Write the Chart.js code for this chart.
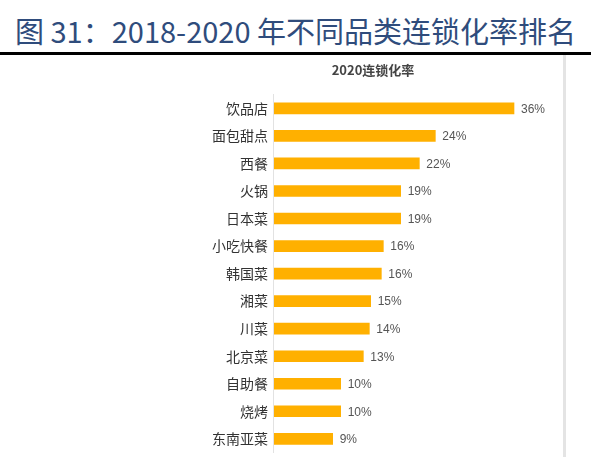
<!DOCTYPE html>
<html>
<head>
<meta charset="utf-8">
<script src="https://cdn.jsdelivr.net/npm/chart.js@4/dist/chart.umd.min.js"></script>
<style>
  body { margin: 0; background: #fff; width: 591px; height: 457px; overflow: hidden; position: relative; }
  #title { position: absolute; left: 15px; top: 12px; font-family: "Noto Sans CJK SC", sans-serif; font-size: 29px; color: #2f4c7c; white-space: nowrap; line-height: 36px; }
  #rule { position: absolute; left: 0; top: 52px; width: 591px; height: 3px; background: #000; }
  #edge { position: absolute; left: 563px; top: 55px; width: 3px; height: 402px; background: #e4e4e4; }
  #wrap { position: absolute; left: 195px; top: 58px; width: 356px; height: 409px; }
</style>
</head>
<body>
<div id="title">图 31：2018-2020 年不同品类连锁化率排名</div>
<div id="rule"></div>
<div id="edge"></div>
<div id="wrap"><canvas id="chart"></canvas></div>
<script>
const categories = ['饮品店', '面包甜点', '西餐', '火锅', '日本菜', '小吃快餐', '韩国菜', '湘菜', '川菜', '北京菜', '自助餐', '烧烤', '东南亚菜'];
const rate2020 = [36, 24.2, 21.8, 19, 19, 16.4, 16.1, 14.5, 14.3, 13.4, 10, 10, 8.8];

// value labels at the end of each bar
const barLabels = {
    id: 'barLabels',
    afterDatasetsDraw(chart) {
        const ctx = chart.ctx;
        const meta = chart.getDatasetMeta(0);
        ctx.save();
        ctx.font = '12px "Liberation Sans", Arial, sans-serif';
        ctx.fillStyle = '#555';
        ctx.textBaseline = 'middle';
        meta.data.forEach((bar, i) => {
            ctx.fillText(Math.round(rate2020[i]) + '%', bar.x + 7, bar.y + 1);
        });
        ctx.restore();
    }
};

new Chart(document.getElementById('chart'), {
    type: 'bar',
    data: {
        labels: categories,
        datasets: [{
            data: rate2020,
            backgroundColor: '#ffb000',
            barThickness: 11
        }]
    },
    options: {
        indexAxis: 'y',
        responsive: true,
        maintainAspectRatio: false,
        animation: false,
        layout: { padding: { top: 0, bottom: 4, left: 11, right: 11 } },
        plugins: {
            legend: { display: false },
            tooltip: { enabled: false },
            title: {
                display: true,
                text: '2020连锁化率',
                color: '#444',
                font: { family: '"Noto Sans CJK SC", sans-serif', size: 13, weight: 'bold' },
                padding: { top: 4, bottom: 17 }
            }
        },
        scales: {
            x: { display: false, min: 0, max: 39.9 },
            y: {
                grid: { display: false, drawTicks: false },
                border: { color: '#e2e2e2' },
                ticks: { color: '#333', padding: 6, font: { family: '"Noto Sans CJK SC", sans-serif', size: 14 } }
            }
        }
    },
    plugins: [barLabels]
});
</script>
</body>
</html>
